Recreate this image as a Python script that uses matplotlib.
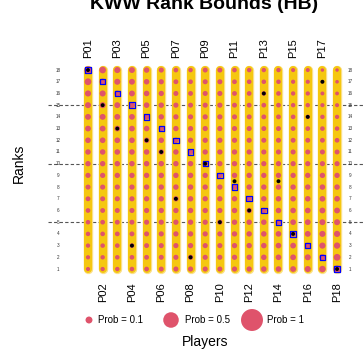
import numpy as np
import matplotlib
matplotlib.use('Agg')
import matplotlib.pyplot as plt

plt.rcParams['font.family'] = ['Liberation Sans', 'DejaVu Sans']

# Players and ranks
players = ['P01', 'P02', 'P03', 'P04', 'P05', 'P06', 'P07', 'P08', 'P09',
           'P10', 'P11', 'P12', 'P13', 'P14', 'P15', 'P16', 'P17', 'P18']
ranks = list(range(1, 19))

# Rank bounds (all players span the full range)
lower = [1] * 18
upper = [18] * 18

# Expected rank (blue squares) and observed rank (black dots)
expected = [18, 17, 16, 15, 14, 13, 12, 11, 10, 9, 8, 7, 6, 5, 4, 3, 2, 1]
observed = [18, 15, 13, 3, 12, 11, 7, 2, 10, 5, 8.5, 6, 16, 8.5, 4, 14, 17, 1]

# Rank probabilities in percent, one row per player, ranks 1..18
p01 = [3.5, 3.7, 3.9, 4.1, 4.3, 4.6, 4.9, 5.2, 5.5, 5.9, 6.2, 6.5, 6.8, 7.1, 7.4, 7.7, 9.5, 11.5]
p02 = [3.8, 4.0, 4.2, 4.4, 4.6, 4.9, 5.1, 5.4, 5.7, 6.0, 6.3, 6.6, 6.9, 7.2, 7.4, 7.6, 8.5, 9.0]
p03 = [4.0, 4.2, 4.4, 4.6, 4.9, 5.1, 5.4, 5.6, 5.9, 6.1, 6.4, 6.6, 6.8, 7.0, 7.1, 7.3, 7.5, 7.6]
p04 = [4.3, 4.5, 4.7, 4.9, 5.1, 5.3, 5.5, 5.7, 5.9, 6.1, 6.3, 6.5, 6.6, 6.8, 6.9, 7.0, 7.1, 7.1]
p05 = [4.6, 4.8, 5.0, 5.2, 5.4, 5.6, 5.8, 5.9, 6.0, 6.2, 6.3, 6.4, 6.4, 6.5, 6.5, 6.4, 6.3, 6.2]
p06 = [4.9, 5.1, 5.3, 5.5, 5.6, 5.8, 5.9, 6.0, 6.1, 6.2, 6.2, 6.2, 6.2, 6.1, 6.0, 5.8, 5.6, 5.4]
p07 = [5.3, 5.4, 5.6, 5.7, 5.8, 5.9, 6.0, 6.1, 6.1, 6.1, 6.1, 6.0, 5.9, 5.7, 5.5, 5.2, 4.9, 4.5]
p08 = [5.5, 5.6, 5.7, 5.8, 5.9, 6.0, 6.1, 6.1, 6.1, 6.0, 5.9, 5.8, 5.6, 5.4, 5.1, 4.8, 4.5, 4.2]
p09 = [5.3, 5.4, 5.5, 5.6, 5.7, 5.8, 5.8, 5.8, 5.8, 5.8, 5.8, 5.7, 5.6, 5.5, 5.4, 5.3, 5.2, 5.1]
p10 = [5.2, 5.3, 5.4, 5.5, 5.6, 5.7, 5.8, 5.8, 5.8, 5.8, 5.8, 5.8, 5.7, 5.6, 5.5, 5.4, 5.3, 5.2]
p11 = [5.5, 5.7, 5.8, 5.9, 6.0, 6.1, 6.1, 6.1, 6.0, 5.9, 5.8, 5.6, 5.4, 5.2, 5.0, 4.8, 4.6, 4.4]
p12 = [5.7, 5.9, 6.0, 6.1, 6.1, 6.1, 6.1, 6.0, 5.9, 5.8, 5.6, 5.4, 5.2, 5.0, 4.8, 4.6, 4.4, 4.2]
p13 = [6.2, 6.3, 6.3, 6.3, 6.3, 6.2, 6.1, 6.0, 5.8, 5.6, 5.4, 5.2, 5.0, 4.8, 4.6, 4.4, 4.2, 4.0]
p14 = [6.4, 6.5, 6.5, 6.5, 6.4, 6.3, 6.2, 6.0, 5.8, 5.6, 5.4, 5.2, 5.0, 4.8, 4.6, 4.4, 4.2, 4.0]
p15 = [6.8, 6.8, 6.8, 6.7, 6.6, 6.4, 6.2, 6.0, 5.8, 5.6, 5.3, 5.0, 4.7, 4.4, 4.1, 3.9, 3.7, 3.5]
p16 = [7.4, 7.3, 7.2, 7.0, 6.8, 6.6, 6.3, 6.1, 5.8, 5.5, 5.2, 4.9, 4.6, 4.3, 4.0, 3.8, 3.6, 3.4]
p17 = [8.5, 8.2, 7.8, 7.5, 7.2, 6.9, 6.6, 6.2, 5.9, 5.5, 5.2, 4.8, 4.4, 4.0, 3.6, 3.2, 2.8, 2.5]
p18 = [11.0, 9.5, 8.2, 7.8, 7.4, 7.0, 6.6, 6.2, 5.8, 5.4, 5.0, 4.6, 4.2, 3.8, 3.4, 3.0, 2.7, 2.5]
probs = np.array([p01, p02, p03, p04, p05, p06, p07, p08, p09,
                  p10, p11, p12, p13, p14, p15, p16, p17, p18]) / 100

legend_probs = [0.1, 0.5, 1]
legend_labels = ['Prob = 0.1', 'Prob = 0.5', 'Prob = 1']

pink = '#DF536B'
gold = '#F5C710'
size_scale = 250  # marker area (pt^2) for prob = 1

fig = plt.figure(figsize=(3.63, 3.63), dpi=100)
ax = fig.add_axes([48 / 363, 1 - 282 / 363, 315 / 363, 224 / 363])
ax.set_xlim(-1.73, 19.77)
ax.set_ylim(-0.11, 19.03)
ax.axis('off')

x = np.arange(1, len(players) + 1)

# dashed reference lines
for r in [5, 10, 15]:
    ax.axhline(r, color='#555555', lw=0.8, ls=(0, (3, 2)), zorder=1)

# rank bound bars
for i in range(len(players)):
    ax.plot([x[i], x[i]], [lower[i], upper[i]], color='#FBE08A', lw=6.8,
            solid_capstyle='round', zorder=1.5)
    ax.plot([x[i], x[i]], [lower[i], upper[i]], color=gold, lw=5.8,
            solid_capstyle='round', zorder=2)

# probability dots
for i in range(len(players)):
    ax.scatter(np.full(len(ranks), x[i]), ranks, s=size_scale * probs[i],
               color=pink, edgecolors='none', zorder=3)

ax.scatter(x, expected, marker='s', s=15, facecolors='none',
           edgecolors='blue', linewidths=0.9, zorder=4)
ax.scatter(x, observed, s=8, color='black', edgecolors='none', zorder=5)

# rank labels on both sides
for r in ranks:
    ax.text(-1.05, r, str(r), fontsize=3.3, color='#333333', ha='center', va='center')
    ax.text(18.89, r, str(r), fontsize=3.3, color='#333333', ha='center', va='center')

# player labels, odd on top and even at bottom
for i, name in enumerate(players):
    if i % 2 == 0:
        ax.text(x[i], 1.0, name, transform=ax.get_xaxis_transform(), rotation=90,
                fontsize=8, ha='center', va='bottom')
    else:
        ax.text(x[i], 0.0, name, transform=ax.get_xaxis_transform(), rotation=90,
                fontsize=8, ha='center', va='top')

# overlay in pixel coordinates for title, axis titles and legend
cv = fig.add_axes([0, 0, 1, 1])
cv.set_xlim(0, 363)
cv.set_ylim(363, 0)
cv.axis('off')

cv.text(204, 9, 'KWW Rank Bounds (HB)', fontsize=14, fontweight='bold',
        ha='center', va='baseline')
cv.text(19, 163, 'Ranks', fontsize=10, rotation=90, ha='center', va='center')
cv.text(205, 342, 'Players', fontsize=10, ha='center', va='center')

leg_x = [89, 171, 252]
leg_text_x = [98, 185, 267]
for lx, tx, lp, lab in zip(leg_x, leg_text_x, legend_probs, legend_labels):
    cv.scatter([lx], [320], s=size_scale * lp, color=pink, edgecolors='none')
    cv.text(tx, 320, lab, fontsize=7, ha='left', va='center')

fig.savefig('out.png', dpi=100)
